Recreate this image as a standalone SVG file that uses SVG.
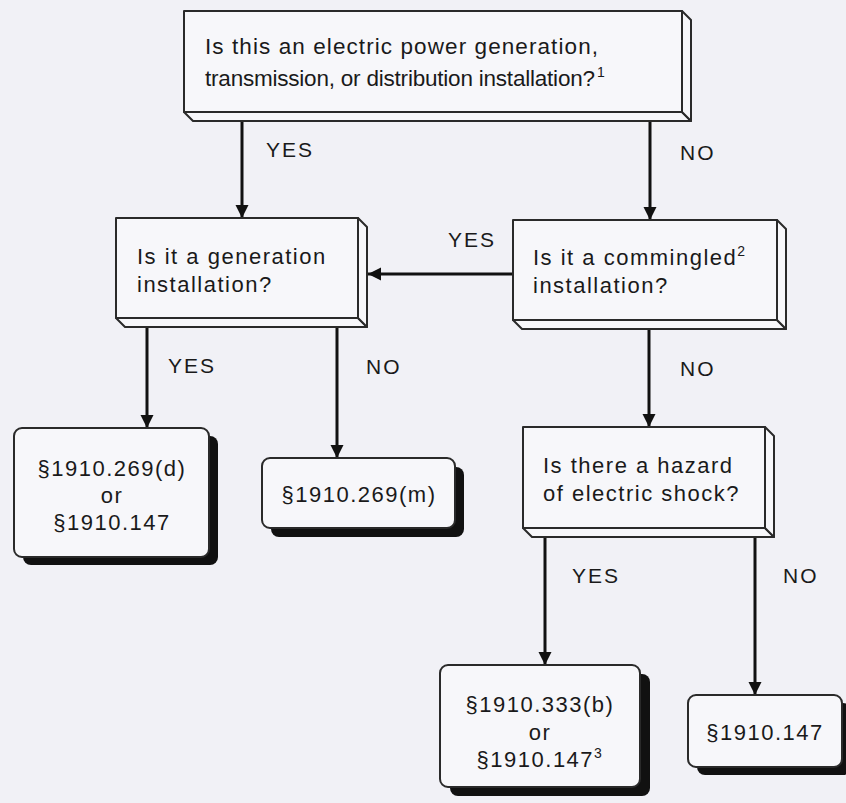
<svg xmlns="http://www.w3.org/2000/svg" width="846" height="803" viewBox="0 0 846 803">
<style>
  .bg { fill: #f1f1f6; }
  .face { fill: #f7f7fa; stroke: #2a2a2a; stroke-width: 2; stroke-linejoin: round; }
  .rbox { fill: #f7f7fa; stroke: #2a2a2a; stroke-width: 2; }
  .shadow { fill: #111; }
  .t { font-family: "Liberation Sans", Arial, Helvetica, sans-serif; font-size: 22px; fill: #1a1a1a; letter-spacing: 1.5px; }
  .big { font-size: 22.5px; letter-spacing: 0px; }
  .c { text-anchor: middle; }
  .lbl { font-family: "Liberation Sans", Arial, Helvetica, sans-serif; font-size: 21px; fill: #1a1a1a; letter-spacing: 2px; }
  .sup { font-size: 14px; }
  .conn { stroke: #111; stroke-width: 3; fill: none; marker-end: url(#arrow); }
</style>
<defs>
  <marker id="arrow" markerUnits="userSpaceOnUse" markerWidth="14" markerHeight="14" refX="13" refY="6.5" orient="auto">
    <path d="M0,0 L13,6.5 L0,13 Z" fill="#111"/>
  </marker>
</defs>
<rect class="bg" x="0" y="0" width="846" height="803"/>

<g id="connectors">
  <line class="conn" x1="242" y1="121" x2="242" y2="218"/>
  <line class="conn" x1="650" y1="121" x2="650" y2="220"/>
  <line class="conn" x1="513" y1="274" x2="368" y2="274"/>
  <line class="conn" x1="147" y1="327" x2="147" y2="428"/>
  <line class="conn" x1="337" y1="327" x2="337" y2="458"/>
  <line class="conn" x1="649" y1="329" x2="649" y2="427"/>
  <line class="conn" x1="545" y1="537" x2="545" y2="665"/>
  <line class="conn" x1="755" y1="537" x2="755" y2="695"/>
  <text class="lbl" x="266" y="157">YES</text>
  <text class="lbl" x="680" y="160">NO</text>
  <text class="lbl" x="448" y="247">YES</text>
  <text class="lbl" x="168" y="373">YES</text>
  <text class="lbl" x="366" y="374">NO</text>
  <text class="lbl" x="680" y="376">NO</text>
  <text class="lbl" x="572" y="583">YES</text>
  <text class="lbl" x="783" y="583">NO</text>
</g>

<g id="q-installation">
  <polygon class="face" points="184,112 682,112 691,121 193,121"/>
  <polygon class="face" points="682,11 691,20 691,121 682,112"/>
  <rect class="face" x="184" y="11" width="498" height="101"/>
  <text class="t big" x="205" y="54" textLength="393" lengthAdjust="spacing">Is this an electric power generation,</text>
  <text class="t big" x="205" y="86" textLength="390" lengthAdjust="spacing">transmission, or distribution installation?</text>
  <text class="t sup" x="597" y="77">1</text>
</g>

<g id="q-generation">
  <polygon class="face" points="116,318 358,318 367,327 125,327"/>
  <polygon class="face" points="358,218 367,227 367,327 358,318"/>
  <rect class="face" x="116" y="218" width="242" height="100"/>
  <text class="t" x="137" y="264">Is it a generation</text>
  <text class="t" x="137" y="292">installation?</text>
</g>

<g id="q-commingled">
  <polygon class="face" points="513,320 777,320 786,329 522,329"/>
  <polygon class="face" points="777,220 786,229 786,329 777,320"/>
  <rect class="face" x="513" y="220" width="264" height="100"/>
  <text class="t" x="533" y="265">Is it a commingled<tspan class="sup" dy="-9">2</tspan></text>
  <text class="t" x="533" y="293">installation?</text>
</g>

<g id="q-hazard">
  <polygon class="face" points="523,528 765,528 774,537 532,537"/>
  <polygon class="face" points="765,427 774,436 774,537 765,528"/>
  <rect class="face" x="523" y="427" width="242" height="101"/>
  <text class="t" x="543" y="473">Is there a hazard</text>
  <text class="t" x="543" y="501">of electric shock?</text>
</g>

<g id="r-269d">
  <rect class="shadow" x="23" y="436" width="195" height="129" rx="8"/>
  <rect class="rbox" x="14" y="428" width="195" height="129" rx="8"/>
  <text class="t c" x="112" y="476">§1910.269(d)</text>
  <text class="t c" x="112" y="503">or</text>
  <text class="t c" x="112" y="530">§1910.147</text>
</g>

<g id="r-269m">
  <rect class="shadow" x="271" y="467" width="193" height="70" rx="8"/>
  <rect class="rbox" x="262" y="458" width="193" height="70" rx="8"/>
  <text class="t c" x="359" y="502">§1910.269(m)</text>
</g>

<g id="r-333b">
  <rect class="shadow" x="450" y="674" width="200" height="122" rx="8"/>
  <rect class="rbox" x="440" y="665" width="200" height="122" rx="8"/>
  <text class="t c" x="540" y="712">§1910.333(b)</text>
  <text class="t c" x="540" y="740">or</text>
  <text class="t c" x="540" y="767">§1910.147<tspan class="sup" dy="-9">3</tspan></text>
</g>

<g id="r-147">
  <rect class="shadow" x="697" y="703" width="154" height="72" rx="8"/>
  <rect class="rbox" x="688" y="695" width="154" height="72" rx="8"/>
  <text class="t c" x="765" y="740">§1910.147</text>
</g>
</svg>
